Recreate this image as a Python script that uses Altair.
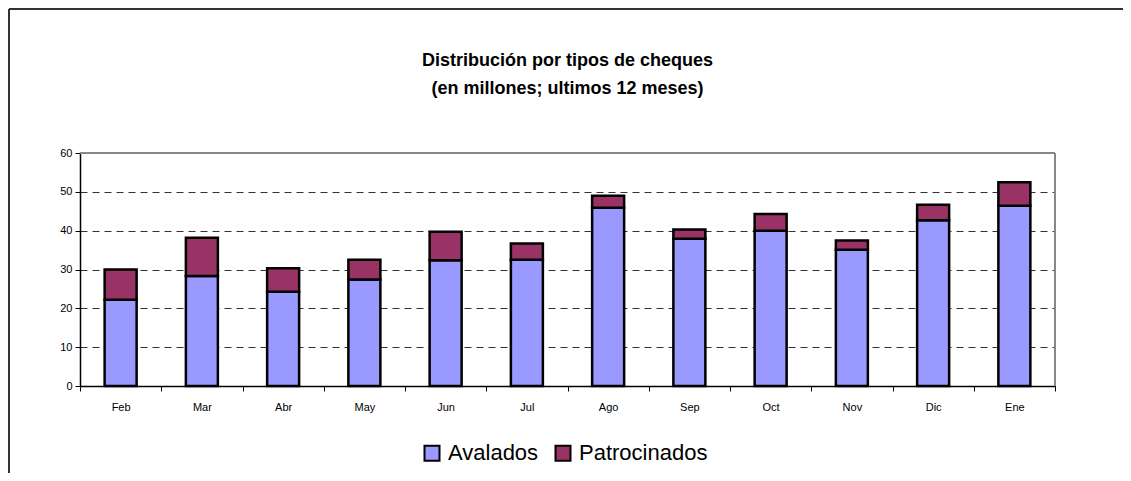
import altair as alt
import pandas as pd

meses = ["Feb", "Mar", "Abr", "May", "Jun", "Jul", "Ago", "Sep", "Oct", "Nov", "Dic", "Ene"]
avalados = [22.2, 28.3, 24.3, 27.4, 32.4, 32.5, 45.9, 37.9, 40.0, 35.1, 42.7, 46.4]
patrocinados = [7.8, 9.9, 6.0, 5.1, 7.3, 4.2, 3.1, 2.4, 4.3, 2.4, 4.0, 6.1]
series = ["Avalados", "Patrocinados"]
colores = ["#9999FF", "#993366"]
titulo = ["Distribución por tipos de cheques", "(en millones; ultimos 12 meses)"]

rows = []
for m, a, p in zip(meses, avalados, patrocinados):
    rows.append({"mes": m, "tipo": series[0], "valor": a, "orden": 0})
    rows.append({"mes": m, "tipo": series[1], "valor": p, "orden": 1})
df = pd.DataFrame(rows)

W, H = 975, 233
PAD_L, PAD_T, PAD_R, PAD_B = 72, 145, 68, 87

bars = alt.Chart(df).mark_bar(size=32, stroke="black", strokeWidth=2.5).encode(
    x=alt.X("mes:N", sort=meses, title=None,
            scale=alt.Scale(paddingInner=0, paddingOuter=0),
            axis=alt.Axis(labelAngle=0, tickBand="extent", domainColor="black",
                          domainWidth=1.5, tickColor="black", tickSize=5,
                          labelFontSize=11, labelPadding=10, labelColor="black",
                          labelFont="Liberation Sans", grid=False)),
    y=alt.Y("valor:Q", stack="zero", title=None,
            scale=alt.Scale(domain=[0, 60], nice=False),
            axis=alt.Axis(values=[0, 10, 20, 30, 40, 50, 60], tickColor="black",
                          tickSize=5, domainColor="black", domainWidth=1.5,
                          labelFontSize=11, labelColor="black", labelPadding=3,
                          labelFont="Liberation Sans",
                          grid=True, gridColor="#333333", gridDash=[7, 5],
                          gridWidth=1)),
    color=alt.Color("tipo:N", sort=series,
                    scale=alt.Scale(domain=series, range=colores),
                    legend=alt.Legend(title=None, orient="none", direction="horizontal",
                                      legendX=341, legendY=289, symbolType="square",
                                      symbolSize=225, symbolStrokeColor="black",
                                      symbolStrokeWidth=2, labelFontSize=22,
                                      labelFont="Liberation Sans", labelColor="black",
                                      labelOffset=5, columnPadding=12)),
    order=alt.Order("orden:Q"),
)

border_top = alt.Chart(df).mark_rule(color="#888888", strokeWidth=2).encode(
    x=alt.value(0), x2=alt.value(W), y=alt.value(0)
)
border_right = alt.Chart(df).mark_rule(color="#888888", strokeWidth=2).encode(
    x=alt.value(W), y=alt.value(0), y2=alt.value(H)
)

frame_top = alt.Chart(df).mark_rule(color="#333333", strokeWidth=2).encode(
    x=alt.value(-PAD_L + 1), x2=alt.value(W + PAD_R), y=alt.value(-PAD_T + 1)
)
frame_left = alt.Chart(df).mark_rule(color="#333333", strokeWidth=2).encode(
    x=alt.value(-PAD_L + 1), y=alt.value(-PAD_T + 1), y2=alt.value(H + PAD_B)
)

title1 = alt.Chart(pd.DataFrame({"t": [titulo[0]]})).mark_text(
    fontSize=18, font="Liberation Sans", fontWeight="bold", color="black",
    align="center", baseline="middle"
).encode(text="t:N", x=alt.value(W / 2), y=alt.value(-92))
title2 = alt.Chart(pd.DataFrame({"t": [titulo[1]]})).mark_text(
    fontSize=18, font="Liberation Sans", fontWeight="bold", color="black",
    align="center", baseline="middle"
).encode(text="t:N", x=alt.value(W / 2), y=alt.value(-64))

chart = alt.layer(frame_top, frame_left, bars, border_top, border_right,
                  title1, title2).properties(
    width=W, height=H,
    autosize=alt.AutoSizeParams(type="none"),
    padding={"left": PAD_L, "top": PAD_T, "right": PAD_R, "bottom": PAD_B},
).configure_view(stroke=None).configure(background="white")

chart.save("out.html", embed_options={"renderer": "svg", "actions": False})
